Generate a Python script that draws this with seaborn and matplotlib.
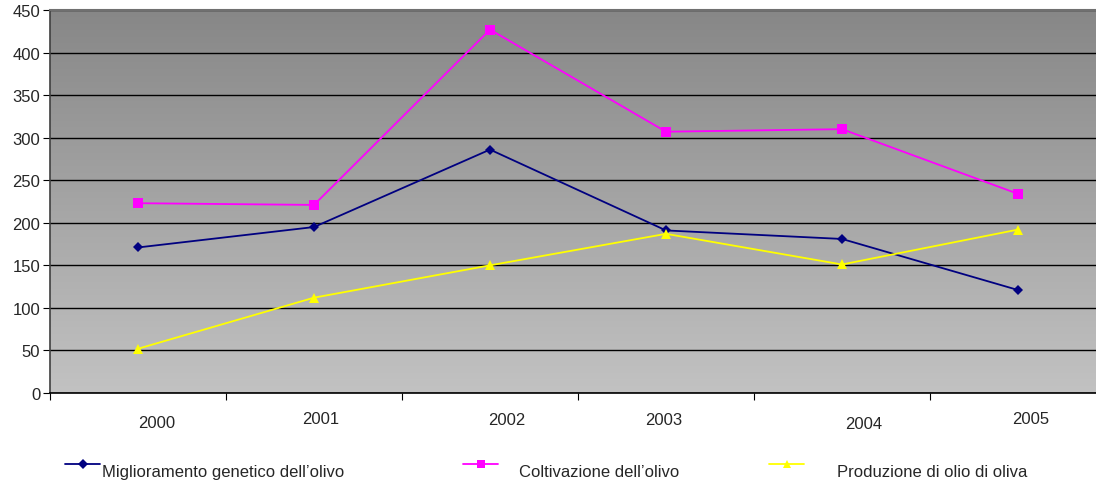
import numpy as np
import pandas as pd
import matplotlib
matplotlib.use("Agg")
import matplotlib.pyplot as plt
import matplotlib.transforms as mtransforms
from matplotlib.colors import LinearSegmentedColormap
from matplotlib.legend_handler import HandlerLine2D
import seaborn as sns

years = ["2000", "2001", "2002", "2003", "2004", "2005"]
miglioramento = [171, 195, 286, 191, 181, 121]
coltivazione = [223, 221, 427, 307, 310, 234]
produzione = [52, 112, 150, 187, 151, 192]
series_names = ["Miglioramento genetico dell\u2019olivo",
                "Coltivazione dell\u2019olivo",
                "Produzione di olio di oliva"]
y_ticks = [0, 50, 100, 150, 200, 250, 300, 350, 400, 450]

sns.set_theme(style="white")
plt.rcParams['font.family'] = ['Liberation Sans', 'DejaVu Sans']

rows = []
for name, vals in zip(series_names, [miglioramento, coltivazione, produzione]):
    for yr, v in zip(years, vals):
        rows.append({"Anno": yr, "Valore": v, "Serie": name})
df = pd.DataFrame(rows)

W, H = 1096, 485
fig = plt.figure(figsize=(W / 100, H / 100), dpi=100)
left, right, top, bottom = 50, 1106, 11, 394
ax = fig.add_axes([left / W, (H - bottom) / H, (right - left) / W, (bottom - top) / H])

# gradient background
grad = np.linspace(0, 1, 256).reshape(-1, 1)
cmap = LinearSegmentedColormap.from_list("g", ["#878787", "#c2c2c2"])
ax.imshow(grad, aspect="auto", cmap=cmap, extent=[0, 1, 0, 1],
          transform=ax.transAxes, zorder=0, origin="upper")

palette = {series_names[0]: "#000080", series_names[1]: "#ff00ff", series_names[2]: "#ffff00"}
markers = {series_names[0]: "D", series_names[1]: "s", series_names[2]: "^"}
sns.lineplot(data=df, x="Anno", y="Valore", hue="Serie", style="Serie",
             palette=palette, markers=markers, dashes=False, ax=ax,
             linewidth=1.3, markersize=7, markeredgewidth=0, zorder=3, sort=False)
for line in ax.lines:
    if line.get_marker() == "D":
        line.set_markersize(5.5)

ax.set_xlim(-0.5, 5.5)
ax.set_ylim(0, 450)
ax.set_yticks(y_ticks)
ax.set_xlabel("")
ax.set_ylabel("")
ax.yaxis.grid(True, color="black", linewidth=1.0, zorder=1)
ax.set_axisbelow(True)

# x ticks at category boundaries
ax.set_xticks(np.arange(6))
ax.set_xticks(np.arange(-0.5, 5.6, 1), minor=True)
ax.tick_params(axis="x", which="major", length=0, pad=14, labelsize=12, bottom=True)
ax.tick_params(axis="x", which="minor", length=5, width=0.8, color="black",
               direction="out", bottom=True)
ax.tick_params(axis="y", which="major", length=5, width=0.8, color="black",
               direction="out", labelsize=12, pad=2, left=True)
offsets = [(19, -3), (7, 1), (17, 0), (-2, 0), (22, -4), (13, 1)]
for lbl, (dx, dy) in zip(ax.get_xticklabels(), offsets):
    lbl.set_transform(lbl.get_transform() + mtransforms.ScaledTranslation(dx / 100, dy / 100, fig.dpi_scale_trans))

ax.spines["left"].set_color("#404040")
ax.spines["left"].set_linewidth(1.2)
ax.spines["bottom"].set_color("black")
ax.spines["bottom"].set_linewidth(1.2)
ax.spines["top"].set_color("#707070")
ax.spines["top"].set_linewidth(1.5)
ax.spines["right"].set_visible(False)


class ShiftedHandler(HandlerLine2D):
    def create_artists(self, legend, orig_handle, xdescent, ydescent, width,
                       height, fontsize, trans):
        arts = super().create_artists(legend, orig_handle, xdescent, ydescent,
                                      width, height, fontsize, trans)
        for a in arts:
            a.set_ydata(np.asarray(a.get_ydata(), dtype=float) + 5)
        return arts


handles, labels = ax.get_legend_handles_labels()
if ax.get_legend() is not None:
    ax.get_legend().remove()

leg_x = [65, 463, 769]
leg_pad = [0.12, 1.26, 2.0]
for h, l, x0, pad in zip(handles, labels, leg_x, leg_pad):
    lg = fig.legend([h], [l], loc="center left", bbox_to_anchor=(x0 / W, 1 - 473 / H),
                    frameon=False, fontsize=12, handlelength=2.1, handletextpad=pad,
                    borderpad=0, borderaxespad=0, markerscale=0.9,
                    handler_map={type(h): ShiftedHandler()})

fig.savefig("out.png", dpi=100)
